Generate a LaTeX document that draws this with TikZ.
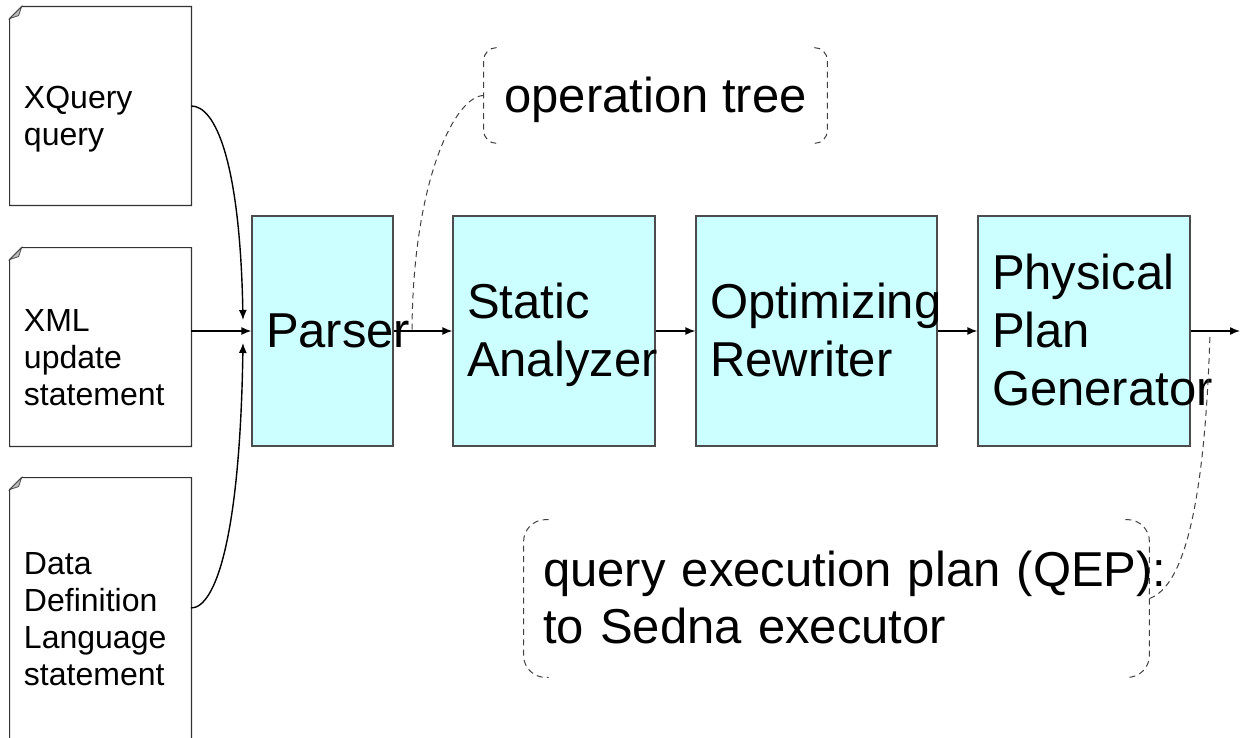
\documentclass[tikz,border=0pt]{standalone}
\usepackage{fontspec}
\setmainfont{Liberation Sans}
\usetikzlibrary{arrows.meta}
\definecolor{boxcyan}{HTML}{CCFFFF}
\newcommand\bigstrut{\rule[-0.212em]{0pt}{1.117em}}
\newcommand\doctop{\rule{0pt}{24.5pt}}
\newcommand\docbot{\rule[-3.4pt]{0pt}{3.4pt}}
\tikzset{
 doc/.style={draw=none, text width=76.5pt, inner xsep=7pt, inner ysep=0pt, align=left, font=\fontsize{16}{18.5}\selectfont},
 docline/.style={draw=black!80, line width=0.6pt},
 stage/.style={draw=black!70, fill=boxcyan, line width=0.6pt, minimum height=115pt, inner xsep=7pt, inner ysep=0pt, align=left, font=\fontsize{24.5}{29}\selectfont},
 flow/.style={-{Latex[length=5pt,width=4pt]}, line width=0.7pt, black},
 callout/.style={draw=none, inner ysep=0pt, align=left, font=\fontsize{24.5}{28.5}\selectfont},
 bracket/.style={draw=black!75, dash pattern=on 3pt off 2.2pt, line width=0.5pt},
}
\newcommand\docoutline[1]{%
  \draw[docline] ([shift={(0,12)}]#1.north west) -- ([shift={(12,0)}]#1.north west) -- (#1.north east) -- (#1.south east) -- (#1.south west) -- cycle;
  \filldraw[draw=black!70, fill=black!25, line width=0.4pt] ([shift={(0,12)}]#1.north west) -- ([shift={(12,0)}]#1.north west) -- ([shift={(9,9)}]#1.north west) -- cycle;}
\begin{document}
\begin{tikzpicture}[x=0.5pt, y=-0.5pt]
\useasboundingbox (0,0) rectangle (1248,738);
\clip (0,0) rectangle (1248,738);
% documents
\node[doc, minimum height=99pt] (d1) at (100.5,106) {\doctop XQuery\\query\docbot};
\node[doc, minimum height=99pt] (d2) at (100.5,347) {\doctop XML\\update\\statement\docbot};
\node[doc, minimum height=131pt] (d3) at (100.5,609) {\doctop Data\\Definition\\Language\\statement\docbot};
\docoutline{d1}
\docoutline{d2}
\docoutline{d3}
% stages
\node[stage, text width=56.5pt] (p) at (322.5,331) {\bigstrut Parser};
\node[stage, text width=87pt] (sa) at (554,331) {\bigstrut Static\\\bigstrut Analyzer};
\node[stage, text width=106.5pt] (ro) at (816.5,331) {\bigstrut Optimizing\\\bigstrut Rewriter};
\node[stage, text width=92pt] (pg) at (1084,331) {\bigstrut Physical\\\bigstrut Plan\\\bigstrut Generator};
% inputs
\coordinate (in1) at (243,320);
\coordinate (in3) at (243,343);
\coordinate (d3out) at (191,608);
\draw[flow] (d1.east) .. controls (215,106) and (240,160) .. (in1);
\draw[flow] (d3out) .. controls (215,608) and (240,540) .. (in3);
\draw[flow] (d2.east |- p.west) -- (p.west);
% flow
\draw[flow] (p.east) -- (sa.west);
\draw[flow] (sa.east) -- (ro.west);
\draw[flow] (ro.east) -- (pg.west);
\coordinate (out) at (1240,331);
\draw[flow] (pg.east) -- (out);
% callout: operation tree
\node[callout, minimum width=171.5pt, minimum height=47.5pt] (ot) at (655.5,95.5) {\bigstrut operation tree};
\draw[bracket, rounded corners=6.5pt] ([shift={(13,0)}]ot.north west) -- (ot.north west) -- (ot.south west) -- ([shift={(13,0)}]ot.south west);
\draw[bracket, rounded corners=6.5pt] ([shift={(-13,0)}]ot.north east) -- (ot.north east) -- (ot.south east) -- ([shift={(-13,0)}]ot.south east);
\coordinate (tp) at (412,330);
\draw[bracket] (ot.west) .. controls (455,96) and (413,180) .. (tp);
% callout: QEP
\node[callout, text width=293.5pt, inner xsep=9.5pt, minimum height=78.5pt] (qep) at (836.5,598.5) {\bigstrut\mbox{query execution plan (QEP):}\\\bigstrut to Sedna executor};
\draw[bracket, rounded corners=11pt] ([shift={(25,0)}]qep.north west) -- (qep.north west) -- (qep.south west) -- ([shift={(25,0)}]qep.south west);
\draw[bracket, rounded corners=11pt] ([shift={(-24,0)}]qep.north east) -- (qep.north east) -- (qep.south east) -- ([shift={(-24,0)}]qep.south east);
\coordinate (tq) at (1210,333);
\draw[bracket] (qep.east) .. controls (1185,586) and (1205,500) .. (tq);
\end{tikzpicture}
\end{document}
